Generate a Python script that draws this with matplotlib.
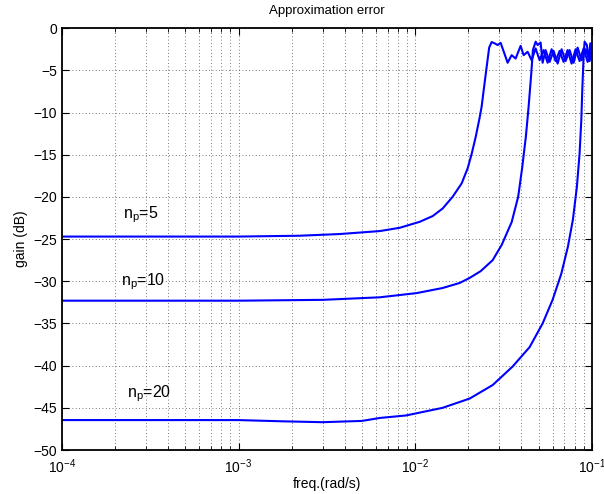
import matplotlib
matplotlib.use("Agg")
import matplotlib.pyplot as plt
from matplotlib.ticker import LogLocator, NullFormatter

plt.rcParams['font.family'] = ['Liberation Sans', 'DejaVu Sans']
plt.rcParams['mathtext.fontset'] = 'custom'
plt.rcParams['mathtext.rm'] = 'Liberation Sans'
plt.rcParams['mathtext.it'] = 'Liberation Sans:italic'

# values
f5 = [1e-4, 1e-3, 2.22e-3, 3.74e-3, 6.3e-3, 8.18e-3, 0.01062, 0.01258, 0.01433,
      0.01632, 0.01835, 0.01985, 0.02091, 0.02203, 0.0232, 0.02381, 0.02444,
      0.02542, 0.02627, 0.02713, 0.02822, 0.02934, 0.03051, 0.03342, 0.03521,
      0.0371, 0.03959, 0.04117, 0.04337, 0.0457, 0.04815, 0.05072, 0.05343,
      0.05629, 0.0593, 0.06248, 0.06582, 0.06934, 0.07305, 0.07697, 0.08108,
      0.08541, 0.09, 0.0948, 0.1]
g5 = [-24.7, -24.7, -24.6, -24.4, -24.05, -23.66, -22.95, -22.27, -21.37,
      -19.98, -18.4, -16.6, -14.9, -12.9, -10.6, -9.3, -7.4,
      -4.6, -2.3, -1.65, -1.8, -2.0, -1.74, -4.1, -3.2,
      -3.6, -2.1, -3.2, -2.8, -3.8, -2.4, -3.8, -2.6,
      -4.1, -2.5, -3.9, -2.7, -4.0, -2.6, -4.2, -2.5,
      -3.9, -2.4, -4.0, -3.0]

f10 = [1e-4, 1e-3, 3e-3, 6.3e-3, 0.0102, 0.0143, 0.01788, 0.02037, 0.02351,
       0.02749, 0.03091, 0.03521, 0.03833, 0.04037, 0.04242, 0.04394, 0.04539,
       0.04647, 0.04815, 0.04943, 0.05138, 0.05274, 0.05483, 0.05777, 0.06087,
       0.06412, 0.06756, 0.07117, 0.07497, 0.079, 0.08322, 0.08767, 0.09237,
       0.0973, 0.1]
g10 = [-32.3, -32.3, -32.2, -31.9, -31.4, -30.8, -30.2, -29.6, -28.8,
       -27.5, -25.7, -23.0, -20.0, -16.6, -12.8, -9.3, -5.6,
       -2.6, -1.6, -2.0, -1.7, -4.1, -2.6, -4.0, -2.7,
       -4.2, -2.5, -3.9, -2.6, -4.1, -2.3, -3.8, -2.5,
       -3.9, -3.0]

f20 = [1e-4, 1e-3, 1.8e-3, 3e-3, 5e-3, 6.3e-3, 8.9e-3, 0.0143, 0.02037, 0.02749,
       0.03568, 0.04452, 0.05274, 0.06007, 0.0673, 0.07334, 0.07827, 0.08246,
       0.08541, 0.08734, 0.08846, 0.09, 0.09116, 0.09393, 0.0964, 0.0982, 0.1]
g20 = [-46.45, -46.45, -46.6, -46.7, -46.55, -46.2, -45.9, -45.0, -43.9, -42.3,
       -40.1, -37.8, -35.0, -32.2, -29.1, -25.9, -22.7, -18.8,
       -14.85, -10.9, -7.35, -3.4, -1.6, -2.0, -3.8, -1.8, -3.0]

labels = [r'$\mathregular{n_p}$=5', r'$\mathregular{n_p}$=10', r'$\mathregular{n_p}$=20']
label_x = [2.21e-4, 2.16e-4, 2.33e-4]
label_y = [-22.5, -30.45, -43.8]

fig = plt.figure(figsize=(6.04, 4.94), dpi=100)
ax = fig.add_axes([0.1026, 0.089, 0.877, 0.854])

for f, g in [(f5, g5), (f10, g10), (f20, g20)]:
    ax.plot(f, g, color=(0, 0, 1), lw=1.5)

for t, x, y in zip(labels, label_x, label_y):
    ax.text(x, y, t, fontsize=11.5, va='baseline', ha='left')

ax.set_xscale('log')
ax.set_xlim(1e-4, 1e-1)
ax.set_ylim(-50, 0)
ax.set_yticks(range(-50, 1, 5))
ax.xaxis.set_minor_locator(LogLocator(base=10, subs=range(2, 10)))
ax.xaxis.set_minor_formatter(NullFormatter())

grid_style = dict(linestyle=(0, (1, 3)), color='0.3', lw=0.6)
ax.grid(True, which='major', **grid_style)
ax.grid(True, which='minor', axis='x', **grid_style)
ax.tick_params(which='both', direction='in', top=True, right=True, labelsize=10)
ax.tick_params(which='major', length=5, width=0.8)
ax.tick_params(which='minor', length=3, width=0.6)
ax.tick_params(axis='x', pad=5)
for s in ax.spines.values():
    s.set_linewidth(1.3)

ax.set_title('Approximation error', fontsize=9.5, pad=10)
ax.set_xlabel('freq.(rad/s)', fontsize=10, labelpad=1)
ax.set_ylabel('gain (dB)', fontsize=10)

fig.savefig('out.png', dpi=100)
